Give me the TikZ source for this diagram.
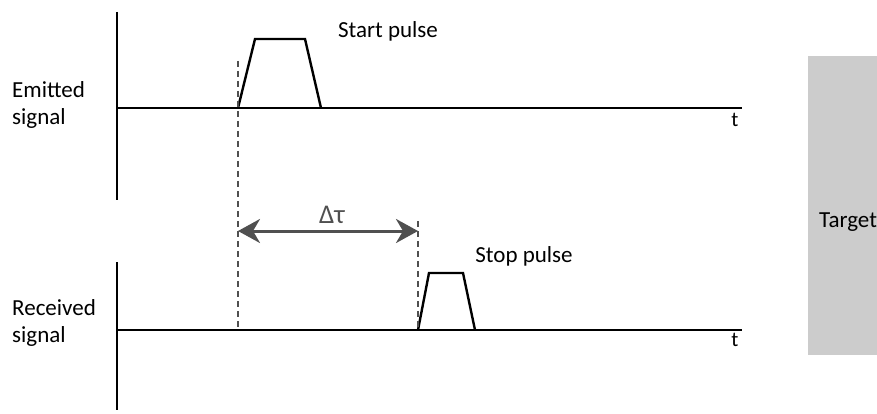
\documentclass[tikz,border=0pt]{standalone}
\usepackage{fontspec}
\setmainfont{Carlito}
\usetikzlibrary{arrows.meta}
\definecolor{tgt}{HTML}{CCCCCC}
\definecolor{arr}{HTML}{505050}
\tikzset{hd/.tip={Stealth[length=22pt,width=24pt,inset=7pt]}}
\begin{document}
\begin{tikzpicture}[x=1pt,y=-1pt,
  ax/.style={line width=2.2pt,black},
  sig/.style={line width=2.4pt,black,line join=miter},
  dsh/.style={line width=1.8pt,arr,dash pattern=on 6pt off 4pt},
  lbl/.style={font=\fontsize{23}{27}\selectfont,inner sep=0pt},
  tlbl/.style={font=\fontsize{21}{24}\selectfont,inner sep=0pt}]
\useasboundingbox (0,0) rectangle (877,414);
\fill[white] (0,0) rectangle (877,414);
% target
\node[fill=tgt,minimum width=80pt,minimum height=299pt,anchor=north west,inner sep=0pt] (target) at (808,56) {};
\node[lbl,anchor=west] (targettxt) at (819,222) {Target};
% axes
\coordinate (a1t) at (117,12); \coordinate (a1b) at (117,200);
\coordinate (h1l) at (117,108); \coordinate (h1r) at (742,108);
\coordinate (a2t) at (117,262); \coordinate (a2b) at (117,410);
\coordinate (h2l) at (117,330); \coordinate (h2r) at (742,330);
\draw[ax] (a1t) -- (a1b);
\draw[ax] (h1l) -- (h1r);
\draw[ax] (a2t) -- (a2b);
\draw[ax] (h2l) -- (h2r);
\node[tlbl] (t1) at (735,120) {t};
\node[tlbl] (t2) at (735,340) {t};
% labels
\node[lbl,anchor=north west,align=left] (emit) at (12,81) {Emitted\\signal};
\node[lbl,anchor=north west,align=left] (recv) at (12,299) {Received\\signal};
\node[lbl] (start) at (388,31) {Start pulse};
\node[lbl] (stop) at (524,256) {Stop pulse};
% pulses
\coordinate (p1a) at (238,108); \coordinate (p1b) at (255,39);
\coordinate (p1c) at (305,39); \coordinate (p1d) at (321,108);
\draw[sig] (p1a) -- (p1b) -- (p1c) -- (p1d);
\coordinate (p2a) at (418,330); \coordinate (p2b) at (429,273);
\coordinate (p2c) at (463,273); \coordinate (p2d) at (475,330);
\draw[sig] (p2a) -- (p2b) -- (p2c) -- (p2d);
% dashed markers
\coordinate (d1t) at (238,61); \coordinate (d1b) at (238,330);
\coordinate (d2t) at (418,221); \coordinate (d2b) at (418,330);
\draw[dsh] (d1t) -- (d1b);
\draw[dsh] (d2t) -- (d2b);
% arrow
\coordinate (arl) at (238,231); \coordinate (arr) at (418,231);
\draw[line width=3pt,arr,hd-hd] (arl) -- (arr);
\node[font=\fontsize{27}{30}\selectfont,text=arr,inner sep=0pt] (dtau) at (332,215) {Δτ};
\end{tikzpicture}
\end{document}
